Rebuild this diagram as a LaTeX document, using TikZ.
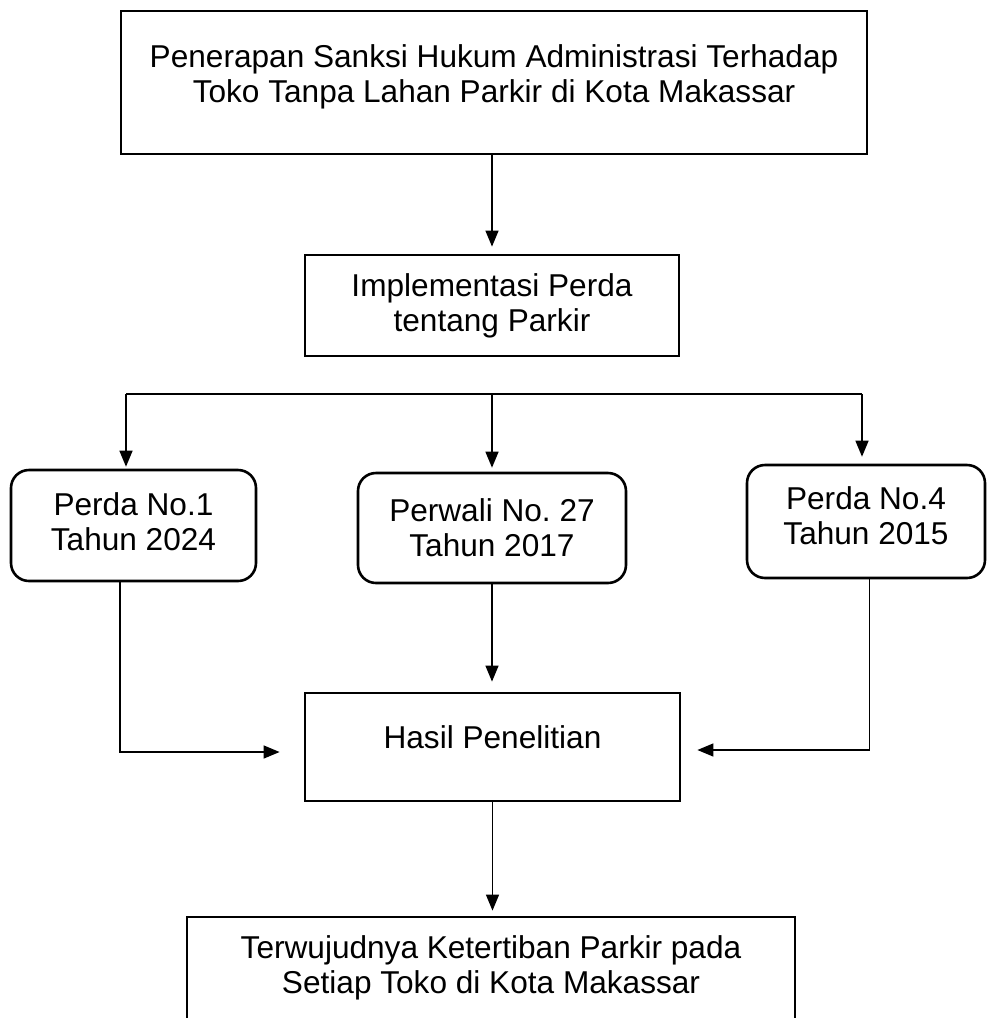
\documentclass[tikz,border=0pt]{standalone}
\usepackage{fontspec}
\setmainfont{Liberation Sans}
\usetikzlibrary{arrows.meta,positioning}

\begin{document}
\frenchspacing
\begin{tikzpicture}[
  x=1pt, y=-1pt,
  font=\fontsize{31.6}{35}\selectfont,
  >={Triangle[width=13pt,length=16pt]},
  sqbox/.style={draw, line width=2.8pt, align=center, inner sep=0pt},
  rndbox/.style={draw, line width=2.6pt, rounded corners=18pt, align=center, inner sep=0pt},
  arr/.style={->, line width=1.4pt},
  wire/.style={line width=1.4pt}
]
\useasboundingbox (0,0) rectangle (987,1018);
\clip (0,0) rectangle (987,1018);

\node[sqbox, minimum width=746pt, minimum height=143pt, text depth=17pt] (judul) at (494,82.5) {Penerapan Sanksi Hukum Administrasi Terhadap\\Toko Tanpa Lahan Parkir di Kota Makassar};
\node[sqbox, minimum width=374pt, minimum height=101pt] (impl) at (492,305.5) {Implementasi Perda\\tentang Parkir};
\node[rndbox, minimum width=245pt, minimum height=111pt, text depth=7pt] (p1) at (133.5,525.5) {Perda No.1\\Tahun 2024};
\node[rndbox, minimum width=268pt, minimum height=110pt] (p2) at (492,528) {Perwali No. 27\\Tahun 2017};
\node[rndbox, minimum width=238pt, minimum height=113pt, text depth=11pt] (p3) at (866,521.5) {Perda No.4\\Tahun 2015};
\node[sqbox, minimum width=375pt, minimum height=108pt, text depth=20pt] (hasil) at (492.5,747) {Hasil Penelitian};
\node[sqbox, minimum width=608pt, minimum height=136pt, text depth=41pt] (akhir) at (491,985) {Terwujudnya Ketertiban Parkir pada\\Setiap Toko di Kota Makassar};

\coordinate (busL) at (126,394);
\coordinate (busR) at (862,394);

\draw[arr, shorten >=7pt] (judul.south -| impl.north) -- (impl.north);
\draw[wire] (busL) -- (busR);
\draw[arr, shorten >=2pt] (busL) -- (busL |- p1.north);
\draw[arr, shorten >=4pt] (busL -| p2.north) -- (p2.north);
\draw[arr, shorten >=7pt] (busR) -- (busR |- p3.north);
\draw[arr, shorten >=24pt] ([xshift=-13.5pt]p1.south) |- ([yshift=-5pt]hasil.west);
\draw[arr, shorten >=10pt] (p2.south) -- (p2.south |- hasil.north);
\draw[arr, shorten >=16pt] ([xshift=3.5pt]p3.south) |- ([yshift=-3pt]hasil.east);
\draw[arr, shorten >=5pt] (hasil.south) -- (hasil.south |- akhir.north);
\end{tikzpicture}
\end{document}
